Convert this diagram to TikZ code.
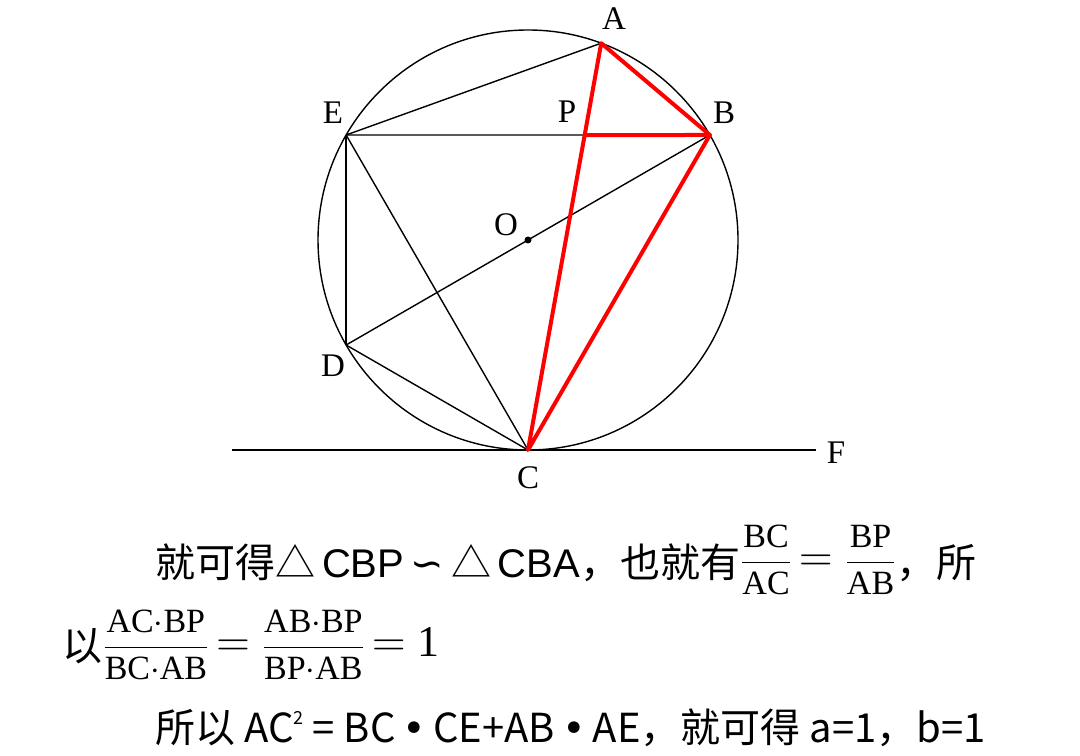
\documentclass[tikz,border=0pt]{standalone}
\usepackage{fontspec}
\usepackage{amsmath}
\usepackage{graphicx}
\setmainfont{Noto Sans CJK SC}
\newfontfamily\ptfont{Liberation Serif}
\newfontfamily\latinfont{Liberation Sans}
\newfontfamily\symfont{DejaVu Sans}
\usetikzlibrary{calc, positioning}
\tikzset{
  ptlabel/.style={font={\ptfont\fontsize{16.5pt}{18pt}\selectfont}, inner sep=0pt},
  blackline/.style={draw=black, line width=0.7pt},
  redline/.style={draw=red, line width=2pt, line cap=round, line join=round},
  textline/.style={anchor=base west, inner sep=0pt, font={\fontsize{20pt}{24pt}\selectfont}},
}
\newcommand{\fr}[2]{{\fontsize{17pt}{20pt}\selectfont$\dfrac{\text{\ptfont #1}}{\text{\ptfont #2}}$}}
\newcommand{\eqs}{\hspace{3.5pt}\scalebox{1.12}{$=$}\hspace{6pt}}
\newcommand{\bul}{\hspace{3.5pt}{\symfont •}\hspace{3.5pt}}

\begin{document}
\begin{tikzpicture}[x=0.5pt, y=0.5pt]
     \useasboundingbox (0,0) rectangle (1080,755);
     %% points on the circle
     \coordinate (O) at (528,515);
     \coordinate (A) at ($(O)+(69.6:210)$);
     \coordinate (B) at ($(O)+(30:210)$);
     \coordinate (E) at ($(O)+(150:210)$);
     \coordinate (D) at ($(O)+(210:210)$);
     \coordinate (C) at ($(O)+(270:210)$);
     \coordinate (P) at (intersection of A--C and E--B);
     \coordinate (Fl) at (232,305);
     \coordinate (Fr) at (816,305);

     \draw[blackline] (O) circle [radius=210];
     \draw[blackline] (Fl) -- (Fr);
     \draw[blackline] (A) -- (E);
     \draw[blackline] (E) -- (P);
     \draw[blackline] (E) -- (D);
     \draw[blackline] (E) -- (C);
     \draw[blackline] (D) -- (B);
     \draw[blackline] (D) -- (C);
     \fill (O) circle [radius=3.5];

     %% red triangle
     \draw[redline] (A) -- (B) -- (C) -- cycle;
     \draw[redline] (P) -- (B);

     \node[ptlabel] (la) at (614,736) {A};
     \node[ptlabel] (lb) at (724,642) {B};
     \node[ptlabel] (le) at (333,642) {E};
     \node[ptlabel] (lp) at (567,643) {P};
     \node[ptlabel] (lo) at (506,530) {O};
     \node[ptlabel] (ld) at (333,389) {D};
     \node[ptlabel] (lc) at (528,277) {C};
     \node[ptlabel] (lf) at (836,302) {F};

     %% text
     \node[textline] (line1) at (155,178) {就可得△\,{\latinfont CBP}\,{\symfont ∽}\,△\,{\latinfont CBA}，也就有\raisebox{3pt}{\fr{BC}{AC}\eqs\fr{BP}{AB}}，所};
     \node[textline] (line2) at (62,95) {以\raisebox{2pt}{\fr{AC$\cdot$BP}{BC$\cdot$AB}\eqs\fr{AB$\cdot$BP}{BP$\cdot$AB}\eqs{\fontsize{22pt}{24pt}\selectfont$\text{\ptfont 1}$}}};
     \node[textline] (line3) at (155,13) {所以 AC\raisebox{9pt}{\fontsize{9pt}{10pt}\selectfont 2} = BC\bul CE+AB\bul AE，就可得 a=1，b=1};
\end{tikzpicture}
\end{document}
